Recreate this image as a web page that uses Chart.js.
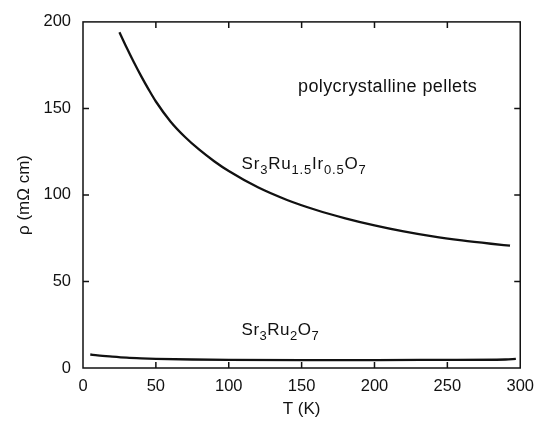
<!DOCTYPE html>
<html>
<head>
<meta charset="utf-8">
<script src="https://cdn.jsdelivr.net/npm/chart.js@4"></script>
<style>
  html, body { margin: 0; padding: 0; background: #fff; }
  #wrap { width: 543px; height: 423px; }
</style>
</head>
<body>
<div id="wrap"><canvas id="rhoChart" width="543" height="423"></canvas></div>
<script>
// Sr3Ru1.5Ir0.5O7 curve
const tempIr = [25, 30, 35, 40, 45, 50, 60, 70, 80, 90, 100, 120, 140, 160, 180, 200, 220, 240, 260, 280, 293];
const rhoIr  = [194, 185, 176.5, 168.5, 161, 154, 142.5, 133.5, 126, 119.5, 113.8, 104.4, 97.1, 91.3, 86.5, 82.4, 78.9, 76, 73.7, 71.8, 70.7];

// Sr3Ru2O7 curve
const tempRu = [5, 10, 20, 30, 40, 50, 75, 100, 150, 200, 250, 290, 297];
const rhoRu  = [7.8, 7.3, 6.6, 6.0, 5.6, 5.3, 4.9, 4.7, 4.6, 4.6, 4.7, 4.9, 5.3];

const xTicks = [0, 50, 100, 150, 200, 250, 300];
const yTicks = [0, 50, 100, 150, 200];

const FONT = '"Liberation Sans", Arial, Helvetica, sans-serif';

function toPoints(xs, ys) {
    return xs.map((x, i) => ({ x: x, y: ys[i] }));
}

// text labels anchored in data coordinates: [T, rho, parts, size, letter spacing]
// each part: [text, isSubscript]
const annotations = [
    [147.5, 159.3, [['polycrystalline pellets', false]], 18, 0.4],
    [108.8, 115, [['Sr', false], ['3', true], ['Ru', false], ['1.5', true], ['Ir', false], ['0.5', true], ['O', false], ['7', true]], 17, 0.8],
    [108.8, 19, [['Sr', false], ['3', true], ['Ru', false], ['2', true], ['O', false], ['7', true]], 17, 0.5]
];

// frame + inward ticks + labels
const framePlugin = {
    id: 'frame',
    afterDraw(chart) {
        const ctx = chart.ctx;
        const a = chart.chartArea;
        const xs = chart.scales.x;
        const ys = chart.scales.y;
        const tl = 6;

        ctx.save();
        ctx.strokeStyle = '#111';
        ctx.lineWidth = 1.5;
        ctx.strokeRect(a.left, a.top, a.right - a.left, a.bottom - a.top);

        ctx.beginPath();
        xTicks.forEach(v => {
            if (v === xs.min || v === xs.max) return;
            const px = xs.getPixelForValue(v);
            ctx.moveTo(px, a.bottom); ctx.lineTo(px, a.bottom - tl);
            ctx.moveTo(px, a.top); ctx.lineTo(px, a.top + tl);
        });
        yTicks.forEach(v => {
            if (v === ys.min || v === ys.max) return;
            const py = ys.getPixelForValue(v);
            ctx.moveTo(a.left, py); ctx.lineTo(a.left + tl, py);
            ctx.moveTo(a.right, py); ctx.lineTo(a.right - tl, py);
        });
        ctx.stroke();

        // text annotations with subscripts
        ctx.fillStyle = '#111';
        ctx.textBaseline = 'alphabetic';
        ctx.textAlign = 'left';
        annotations.forEach(([tx, ty, parts, size, spacing]) => {
            let x = xs.getPixelForValue(tx);
            const y = ys.getPixelForValue(ty);
            parts.forEach(([txt, sub]) => {
                const fs = sub ? Math.round(size * 0.76) : size;
                ctx.font = fs + 'px ' + FONT;
                if ('letterSpacing' in ctx) ctx.letterSpacing = spacing + 'px';
                ctx.fillText(txt, x, sub ? y + 5 : y);
                x += ctx.measureText(txt).width;
            });
        });
        ctx.restore();
    }
};

new Chart(document.getElementById('rhoChart'), {
    type: 'line',
    data: {
        datasets: [
            {
                label: 'Sr3Ru1.5Ir0.5O7',
                data: toPoints(tempIr, rhoIr),
                borderColor: '#111',
                borderWidth: 2.3,
                pointRadius: 0,
                cubicInterpolationMode: 'monotone',
                fill: false
            },
            {
                label: 'Sr3Ru2O7',
                data: toPoints(tempRu, rhoRu),
                borderColor: '#111',
                borderWidth: 2.3,
                pointRadius: 0,
                cubicInterpolationMode: 'monotone',
                fill: false
            }
        ]
    },
    options: {
        responsive: false,
        animation: false,
        layout: { padding: { top: 19, right: 19, left: 0, bottom: 0 } },
        plugins: {
            legend: { display: false },
            tooltip: { enabled: false }
        },
        scales: {
            x: {
                type: 'linear',
                min: 0,
                max: 300,
                afterBuildTicks: scale => { scale.ticks = xTicks.map(v => ({ value: v })); },
                afterFit: scale => { scale.height = 55; },
                grid: { display: false, drawTicks: false },
                border: { display: false },
                ticks: {
                    color: '#111',
                    padding: 9,
                    maxRotation: 0,
                    font: { family: FONT, size: 16.5 }
                },
                title: {
                    display: true,
                    text: 'T (K)',
                    color: '#111',
                    padding: { top: 0, bottom: 3 },
                    font: { family: FONT, size: 17 }
                }
            },
            y: {
                type: 'linear',
                min: 0,
                max: 200,
                afterBuildTicks: scale => { scale.ticks = yTicks.map(v => ({ value: v })); },
                afterFit: scale => { scale.width = 83; },
                grid: { display: false, drawTicks: false },
                border: { display: false },
                ticks: {
                    color: '#111',
                    padding: 12,
                    font: { family: FONT, size: 16.5 }
                },
                title: {
                    display: true,
                    text: 'ρ (mΩ cm)',
                    color: '#111',
                    padding: { top: 14, bottom: 0 },
                    font: { family: FONT, size: 17 }
                }
            }
        }
    },
    plugins: [framePlugin]
});
</script>
</body>
</html>
